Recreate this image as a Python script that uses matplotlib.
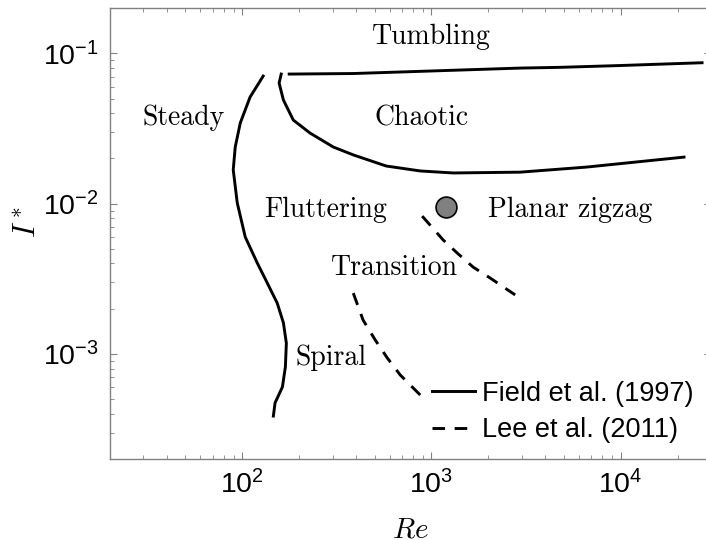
import matplotlib
matplotlib.use('Agg')
import matplotlib.pyplot as plt
from matplotlib.ticker import LogLocator, NullFormatter

plt.rcParams['font.family'] = ['Liberation Sans', 'DejaVu Sans']
plt.rcParams['mathtext.fontset'] = 'custom'
plt.rcParams['mathtext.rm'] = 'Liberation Sans'
plt.rcParams['mathtext.it'] = 'Liberation Sans:italic'
plt.rcParams['mathtext.bf'] = 'Liberation Sans:bold'
plt.rcParams['axes.unicode_minus'] = False

# Field et al. (1997) 边界
steady_re = [129, 110, 97.6, 91.8, 89.6, 94.1, 103.7, 120, 135.5, 153, 165, 171, 169, 163, 149, 146]
steady_i = [0.0706, 0.0512, 0.0344, 0.0238, 0.0168, 0.0101, 0.0060, 0.00403,
            0.00297, 0.00218, 0.00161, 0.00118, 0.00082, 0.000603, 0.000472, 0.000386]

chaotic_re = [160.6, 156.6, 165, 186, 228, 303, 386, 576, 872, 1303, 2944, 6566, 21600]
chaotic_i = [0.0728, 0.0634, 0.0489, 0.036, 0.0295, 0.0238, 0.0211, 0.0178, 0.0165, 0.016,
             0.0162, 0.0175, 0.0204]

tumbling_re = [177, 386, 2944, 4786, 10000, 26900]
tumbling_i = [0.0728, 0.0734, 0.0798, 0.0807, 0.083, 0.0866]

# Lee et al. (2011) 边界
zigzag_re = [893, 1153, 1368, 1661, 2042, 2768]
zigzag_i = [0.00826, 0.00573, 0.00469, 0.00378, 0.0032, 0.00247]

spiral_re = [386, 435, 504, 584, 684, 872]
spiral_i = [0.00254, 0.00168, 0.00124, 0.00094, 0.000724, 0.000533]

point_re = [1200]
point_i = [0.0095]

regions = ['Tumbling', 'Chaotic', 'Steady', 'Fluttering', 'Planar zigzag', 'Transition', 'Spiral']
region_re = [996, 883, 48.8, 274, 5400, 635, 295]
region_i = [0.128, 0.0371, 0.0371, 0.00906, 0.00906, 0.00372, 0.00095]

fig = plt.figure(figsize=(7.06, 5.4), dpi=100)
ax = fig.add_axes([0.1558, 0.15, 0.8513, 0.835])

lw = 2.1
dash = (0, (4.3, 3.3))
ax.plot(steady_re, steady_i, color='k', lw=lw, label='Field et al. (1997)')
ax.plot(chaotic_re, chaotic_i, color='k', lw=lw)
ax.plot(tumbling_re, tumbling_i, color='k', lw=lw)
ax.plot(spiral_re, spiral_i, color='k', lw=lw, ls=dash, label='Lee et al. (2011)')
ax.plot(zigzag_re, zigzag_i, color='k', lw=lw, ls=dash)
ax.plot(point_re, point_i, 'o', ms=15, mfc='#808080', mec='k', mew=1.2)

for name, x, y in zip(regions, region_re, region_i):
    ax.text(x, y, name, ha='center', va='center', fontsize=20, family='cmr10')

ax.set_xscale('log')
ax.set_yscale('log')
ax.set_xlim(20, 3e4)
ax.set_ylim(2e-4, 0.2)

ax.xaxis.set_minor_locator(LogLocator(subs=range(2, 10)))
ax.yaxis.set_minor_locator(LogLocator(subs=range(2, 10)))
ax.xaxis.set_minor_formatter(NullFormatter())
ax.yaxis.set_minor_formatter(NullFormatter())
ax.tick_params(which='both', direction='in', top=True, right=True, color='#808080')
ax.tick_params(which='major', length=5, labelsize=20.5, pad=8)
ax.tick_params(which='minor', length=3)
for s in ax.spines.values():
    s.set_color('#808080')
    s.set_linewidth(1.0)

ax.set_xlabel('$Re$', fontsize=21, math_fontfamily='cm')
ax.set_ylabel('$I^*$', fontsize=22, math_fontfamily='cm')
ax.xaxis.set_label_coords(0.5, -0.125)
ax.yaxis.set_label_coords(-0.112, 0.525)

ax.legend(loc='upper left', bbox_to_anchor=(0.535, 0.174), frameon=False, fontsize=19.5,
          handlelength=1.6, handletextpad=0.25, borderpad=0, borderaxespad=0, labelspacing=0.4)

fig.savefig('out.png', dpi=100)
